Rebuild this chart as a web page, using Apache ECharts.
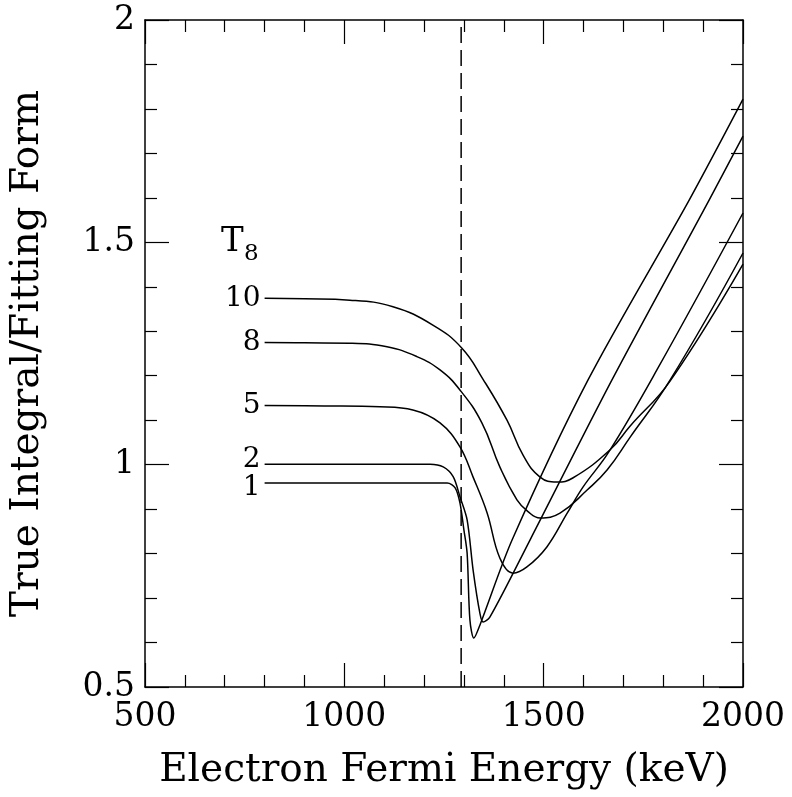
<!DOCTYPE html>
<html>
<head>
<meta charset="utf-8">
<script src="https://cdn.jsdelivr.net/npm/echarts@6/dist/echarts.min.js"></script>
<style>
  html, body { margin: 0; padding: 0; background: #fff; }
  #chart { width: 792px; height: 797px; }
</style>
</head>
<body>
<div id="chart"></div>
<script>
  // T8 curves, values
  var tempLabels = ['10', '8', '5', '2', '1'];

  var x10 = [800, 900, 1014, 1122, 1222, 1295, 1348, 1408, 1448, 1491, 1533, 1573, 1666, 1717, 1817, 2000];
  var y10 = [1.374, 1.373, 1.370, 1.355, 1.314, 1.262, 1.192, 1.100, 1.022, 0.972, 0.961, 0.970, 1.033, 1.087, 1.188, 1.451];

  var x8 = [800, 900, 1014, 1107, 1182, 1240, 1290, 1345, 1390, 1433, 1460, 1491, 1541, 1609, 1659, 1717, 1817, 2000];
  var y8 = [1.275, 1.274, 1.273, 1.265, 1.243, 1.213, 1.168, 1.094, 0.995, 0.921, 0.895, 0.880, 0.891, 0.943, 0.988, 1.062, 1.190, 1.476];

  var x5 = [800, 950, 1089, 1172, 1240, 1290, 1323, 1358, 1390, 1423, 1458, 1508, 1559, 1599, 1663, 1784, 2000];
  var y5 = [1.133, 1.132, 1.130, 1.123, 1.094, 1.040, 0.972, 0.892, 0.790, 0.756, 0.770, 0.815, 0.891, 0.950, 1.028, 1.213, 1.566];

  var x2 = [800, 1000, 1215, 1248, 1273, 1290, 1308, 1323, 1340, 1348, 1365, 1466, 1671, 1915, 2000];
  var y2 = [1.001, 1.001, 1.001, 0.995, 0.973, 0.928, 0.876, 0.763, 0.666, 0.646, 0.657, 0.831, 1.190, 1.595, 1.739];

  var x1 = [800, 1000, 1258, 1278, 1290, 1300, 1308, 1315, 1325, 1340, 1421, 1611, 1865, 2000];
  var y1 = [0.959, 0.959, 0.959, 0.948, 0.914, 0.853, 0.801, 0.651, 0.610, 0.639, 0.831, 1.190, 1.595, 1.822];

  var cutX = 1293;
  var cutY = [0.5, 2];

  var xs = [x10, x8, x5, x2, x1];
  var ys = [y10, y8, y5, y2, y1];

  // drawing style per curve (smoothing, label nudge)
  var smoothBy = [0.45, 0.45, 0.4, 0.3, 0.3];
  var labelNudge = [[0, 0], [0, 0], [0, 0], [0, -5], [0, 5]];

  var FONT = 'DejaVu Serif';

  function toPairs(xa, ya, name, nudge) {
    var out = [];
    for (var i = 0; i < xa.length; i++) {
      if (i === 0) {
        out.push({
          value: [xa[i], ya[i]],
          label: {
            show: true,
            position: 'left',
            distance: 4,
            offset: nudge,
            formatter: name,
            fontFamily: FONT,
            fontSize: 28,
            color: '#000'
          }
        });
      } else {
        out.push([xa[i], ya[i]]);
      }
    }
    return out;
  }

  var series = [];
  for (var k = 0; k < tempLabels.length; k++) {
    series.push({
      name: 'T8=' + tempLabels[k],
      type: 'line',
      data: toPairs(xs[k], ys[k], tempLabels[k], labelNudge[k]),
      smooth: smoothBy[k],
      showSymbol: true,
      showAllSymbol: true,
      symbol: 'circle',
      symbolSize: 0,
      label: { show: false },
      lineStyle: { color: '#000', width: 1.5 },
      itemStyle: { color: '#000' },
      z: 3
    });
  }
  series.push({
    type: 'line',
    data: [[cutX, cutY[0]], [cutX, cutY[1]]],
    symbol: 'none',
    lineStyle: { color: '#000', width: 1.5, type: [16, 7] },
    z: 2
  });

  function xAx(pos, showLabel) {
    return {
      type: 'value',
      position: pos,
      min: 500,
      max: 2000,
      interval: 500,
      name: showLabel ? 'Electron Fermi Energy (keV)' : '',
      nameLocation: 'middle',
      nameGap: 64,
      nameTextStyle: { fontFamily: FONT, fontSize: 39, color: '#000' },
      axisLine: { show: true, onZero: false, lineStyle: { color: '#000', width: 1.5 } },
      axisTick: { show: true, inside: true, length: 24, lineStyle: { color: '#000', width: 1.2 } },
      minorTick: { show: true, splitNumber: 5, length: 12, lineStyle: { color: '#000', width: 1.2 } },
      axisLabel: {
        show: showLabel, margin: 14, fontFamily: FONT, fontSize: 33, color: '#000',
        formatter: function (v) { return String(v); }
      },
      splitLine: { show: false },
      minorSplitLine: { show: false }
    };
  }

  function yAx(pos, showLabel) {
    return {
      type: 'value',
      position: pos,
      min: 0.5,
      max: 2,
      interval: 0.5,
      name: showLabel ? 'True Integral/Fitting Form' : '',
      nameLocation: 'middle',
      nameGap: 98,
      nameTextStyle: { fontFamily: FONT, fontSize: 39, color: '#000' },
      axisLine: { show: true, onZero: false, lineStyle: { color: '#000', width: 1.5 } },
      axisTick: { show: true, inside: true, length: 24, lineStyle: { color: '#000', width: 1.2 } },
      minorTick: { show: true, splitNumber: 5, length: 12, lineStyle: { color: '#000', width: 1.2 } },
      axisLabel: {
        show: showLabel, margin: 10, fontFamily: FONT, fontSize: 33, color: '#000',
        formatter: function (v) { return String(v); }
      },
      splitLine: { show: false },
      minorSplitLine: { show: false }
    };
  }

  var option = {
    backgroundColor: '#fff',
    animation: false,
    grid: { left: 145, right: 49, top: 20, bottom: 110, containLabel: false },
    xAxis: [xAx('bottom', true), xAx('top', false)],
    yAxis: [yAx('left', true), yAx('right', false)],
    graphic: [
      { type: 'text', left: 221, top: 225, style: { text: 'T', font: '34px "DejaVu Serif"', fill: '#000' } },
      { type: 'text', left: 244, top: 243, style: { text: '8', font: '23px "DejaVu Serif"', fill: '#000' } }
    ],
    series: series
  };

  var myChart = echarts.init(document.getElementById('chart'));
  myChart.setOption(option);
</script>
</body>
</html>
